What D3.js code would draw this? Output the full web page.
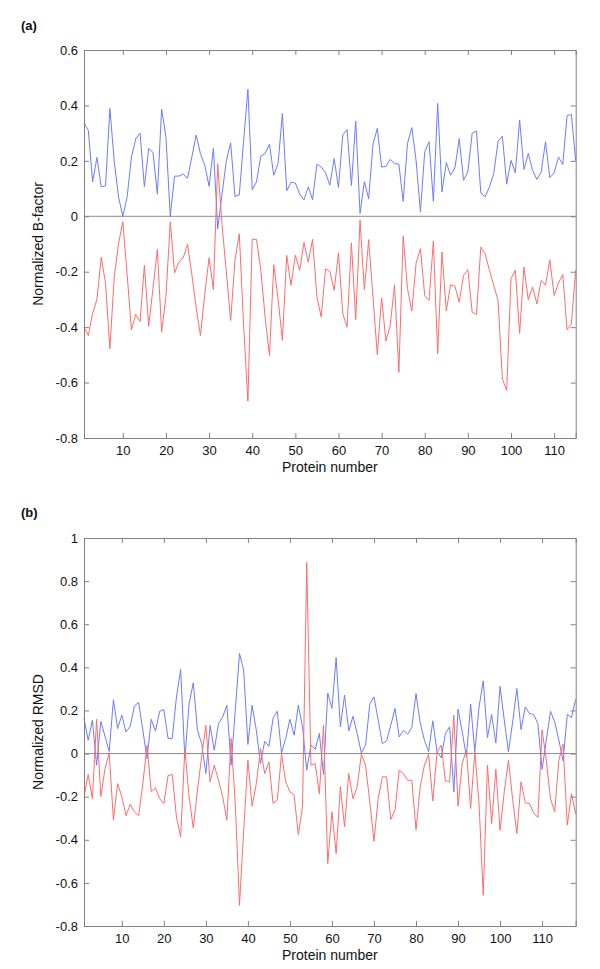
<!DOCTYPE html>
<html>
<head>
<meta charset="utf-8">
<script src="https://cdn.jsdelivr.net/npm/d3@7"></script>
<style>
  html, body { margin: 0; padding: 0; background: #fff; }
  svg { display: block; font-family: "Liberation Sans", Arial, Helvetica, sans-serif; }
</style>
</head>
<body>
<svg id="chart" width="600" height="969"></svg>
<script>
// ---------------- DATA ----------------
const bfactorBlue = [0.337,0.31,0.124,0.212,0.106,0.11,0.389,0.2,0.07,0.0,
0.07,0.214,0.28,0.30,0.106,0.245,0.23,0.08,0.386,0.287,
0.0,0.145,0.145,0.152,0.137,0.214,0.293,0.226,0.184,0.108,
0.245,-0.045,0.08,0.2,0.265,0.072,0.077,0.27,0.458,0.096,
0.124,0.217,0.227,0.26,0.148,0.19,0.371,0.092,0.123,0.12,
0.08,0.06,0.106,0.06,0.188,0.178,0.157,0.112,0.208,0.104,
0.293,0.313,0.111,0.343,0.01,0.125,0.063,0.26,0.317,0.178,
0.18,0.205,0.19,0.188,0.054,0.263,0.32,0.2,0.016,0.233,
0.269,0.054,0.407,0.088,0.194,0.148,0.175,0.28,0.13,0.16,
0.299,0.308,0.084,0.07,0.106,0.154,0.271,0.289,0.116,0.202,
0.157,0.347,0.169,0.227,0.166,0.133,0.16,0.269,0.139,0.157,
0.214,0.187,0.363,0.367,0.2];

const bfactorRed = [-0.40,-0.43,-0.35,-0.30,-0.147,-0.243,-0.478,-0.22,-0.10,-0.02,
-0.21,-0.41,-0.354,-0.38,-0.177,-0.397,-0.26,-0.12,-0.418,-0.29,
-0.02,-0.204,-0.165,-0.15,-0.10,-0.21,-0.33,-0.43,-0.28,-0.15,
-0.265,0.19,-0.03,-0.2,-0.376,-0.16,-0.063,-0.39,-0.667,-0.083,
-0.083,-0.195,-0.364,-0.502,-0.175,-0.298,-0.448,-0.141,-0.249,-0.141,
-0.195,-0.095,-0.165,-0.083,-0.29,-0.364,-0.19,-0.199,-0.267,-0.132,
-0.352,-0.4,-0.096,-0.373,-0.014,-0.265,-0.084,-0.29,-0.499,-0.294,
-0.45,-0.394,-0.247,-0.563,-0.072,-0.261,-0.342,-0.169,-0.117,-0.286,
-0.304,-0.09,-0.496,-0.129,-0.342,-0.247,-0.252,-0.31,-0.213,-0.193,
-0.346,-0.354,-0.111,-0.135,-0.195,-0.249,-0.304,-0.587,-0.629,-0.225,
-0.195,-0.422,-0.183,-0.301,-0.255,-0.316,-0.231,-0.249,-0.157,-0.286,
-0.241,-0.21,-0.41,-0.388,-0.195];

const rmsdBlue = [0.162,0.062,0.155,-0.054,0.15,0.08,0.01,0.25,0.116,0.178,
0.1,0.127,0.221,0.237,0.108,-0.023,0.159,0.105,0.196,0.204,
0.07,0.07,0.263,0.39,-0.023,0.232,0.328,0.108,0.046,-0.093,
0.13,0.015,0.139,0.17,0.224,-0.054,0.2,0.464,0.387,0.042,
0.224,0.108,-0.046,0.057,0.034,0.165,0.196,0.003,0.07,0.159,
0.085,0.224,0.124,-0.077,0.039,0.02,0.093,-0.097,0.281,0.209,
0.445,0.124,0.271,0.105,0.173,0.093,0.003,0.039,0.229,0.263,
0.155,0.046,0.059,0.131,0.209,0.077,0.108,0.09,0.121,0.278,
0.142,0.062,0.008,0.152,0.008,-0.019,0.093,0.124,-0.178,0.206,
0.1,-0.015,0.229,0.008,0.216,0.337,0.074,0.181,0.049,0.312,
0.155,0.008,0.147,0.302,0.111,0.216,0.186,0.181,0.139,-0.074,
0.062,0.196,0.147,0.062,-0.034,0.181,0.167,0.252];

const rmsdRed = [-0.2,-0.097,-0.209,0.159,-0.2,-0.07,0.003,-0.309,-0.139,-0.2,
-0.288,-0.235,-0.27,-0.289,-0.14,0.039,-0.178,-0.159,-0.209,-0.232,
-0.102,-0.097,-0.294,-0.387,0.023,-0.2,-0.345,-0.17,-0.015,0.131,
-0.131,-0.054,-0.124,-0.2,-0.309,0.07,-0.232,-0.704,-0.356,-0.031,
-0.244,-0.139,0.023,-0.093,-0.039,-0.232,-0.216,-0.003,-0.131,-0.178,
-0.193,-0.376,-0.247,0.886,-0.054,-0.046,-0.186,0.131,-0.51,-0.27,
-0.464,-0.155,-0.34,-0.093,-0.209,-0.155,-0.003,-0.054,-0.224,-0.407,
-0.209,-0.108,-0.108,-0.306,-0.263,-0.077,-0.093,-0.124,-0.124,-0.353,
-0.155,-0.054,-0.003,-0.22,0.008,0.039,-0.127,-0.131,0.178,-0.244,
-0.046,0.015,-0.255,0.008,-0.232,-0.657,-0.054,-0.325,-0.073,-0.356,
-0.178,-0.031,-0.213,-0.371,-0.131,-0.229,-0.232,-0.275,-0.297,0.111,
-0.031,-0.209,-0.271,-0.031,0.043,-0.332,-0.186,-0.281];

const xTicks = [10,20,30,40,50,60,70,80,90,100,110];
const yTicksA = [-0.8,-0.6,-0.4,-0.2,0,0.2,0.4,0.6];
const yTicksB = [-0.8,-0.6,-0.4,-0.2,0,0.2,0.4,0.6,0.8,1];
const panelLabels = ["(a)", "(b)"];
const yTitles = ["Normalized B-factor", "Normalized RMSD"];
const xTitle = "Protein number";

// ---------------- DRAW ----------------
const svg = d3.select("#chart");
const left = 84, right = 575.7;
const BLUE = "#6b7cff", RED = "#ff6b6b", AXIS = "#808080";
const FONT = '"Liberation Sans", Arial, Helvetica, sans-serif';

function panel(cfg) {
  const x = d3.scaleLinear().domain([1, cfg.n]).range([left, right]);
  const y = d3.scaleLinear().domain(cfg.yDomain).range([cfg.bottom, cfg.top]);
  const g = svg.append("g");
  const fmt = d => (Math.abs(d) < 1e-9 ? "0" : String(+d.toFixed(1)));

  // zero line
  g.append("line")
    .attr("x1", left).attr("x2", right)
    .attr("y1", y(0)).attr("y2", y(0))
    .attr("stroke", "#8a8a8a").attr("stroke-width", 1);

  const line = d3.line().x((d, i) => x(i + 1)).y(d => y(d));
  g.append("path").datum(cfg.blue).attr("d", line)
    .attr("fill", "none").attr("stroke", BLUE).attr("stroke-width", 1);
  g.append("path").datum(cfg.red).attr("d", line)
    .attr("fill", "none").attr("stroke", RED).attr("stroke-width", 1);

  // axes (inward ticks on all sides)
  const tl = 5;
  const bottomAx = d3.axisBottom(x).tickValues(xTicks).tickSize(-tl).tickPadding(8).tickFormat(d3.format("d"));
  const topAx = d3.axisTop(x).tickValues(xTicks).tickSize(-tl).tickFormat("");
  const leftAx = d3.axisLeft(y).tickValues(cfg.yTicks).tickSize(-tl).tickPadding(6).tickFormat(fmt);
  const rightAx = d3.axisRight(y).tickValues(cfg.yTicks).tickSize(-tl).tickFormat("");

  const axes = [
    g.append("g").attr("transform", `translate(0,${cfg.bottom})`).call(bottomAx),
    g.append("g").attr("transform", `translate(0,${cfg.top})`).call(topAx),
    g.append("g").attr("transform", `translate(${left},0)`).call(leftAx),
    g.append("g").attr("transform", `translate(${right},0)`).call(rightAx)
  ];
  axes.forEach(a => {
    a.attr("font-size", 13).attr("font-family", FONT);
    a.select(".domain").attr("stroke", AXIS).attr("stroke-width", 1);
    a.selectAll(".tick line").attr("stroke", AXIS);
    a.selectAll(".tick text").attr("fill", "#111");
  });

  // titles
  g.append("text").text(cfg.label)
    .attr("x", 21).attr("y", cfg.labelY)
    .attr("font-weight", "bold").attr("font-size", 13).attr("fill", "#111");
  g.append("text").text(xTitle)
    .attr("x", (left + right) / 2).attr("y", cfg.bottom + 34)
    .attr("text-anchor", "middle").attr("font-size", 14).attr("fill", "#111");
  g.append("text").text(cfg.yTitle)
    .attr("transform", `translate(43,${(cfg.top + cfg.bottom) / 2}) rotate(-90)`)
    .attr("text-anchor", "middle").attr("font-size", 14).attr("fill", "#111");
}

panel({ n: bfactorBlue.length, yDomain: [-0.8, 0.6], top: 50, bottom: 438,
        yTicks: yTicksA, blue: bfactorBlue, red: bfactorRed,
        label: panelLabels[0], labelY: 30, yTitle: yTitles[0] });
panel({ n: rmsdBlue.length, yDomain: [-0.8, 1], top: 538, bottom: 926,
        yTicks: yTicksB, blue: rmsdBlue, red: rmsdRed,
        label: panelLabels[1], labelY: 517, yTitle: yTitles[1] });
</script>
</body>
</html>
